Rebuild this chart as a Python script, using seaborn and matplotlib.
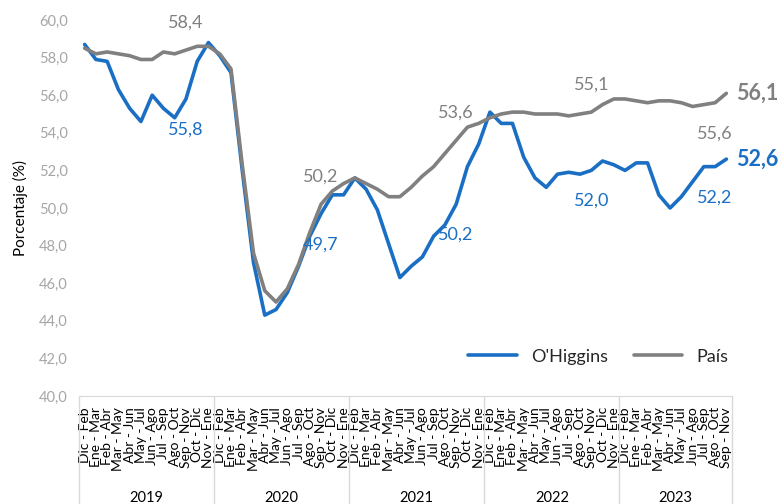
import pandas as pd
import matplotlib.pyplot as plt
import matplotlib.transforms as mtransforms
import seaborn as sns

# rolling quarters (trimestres moviles) per year
trimestres = ['Dic - Feb', 'Ene - Mar', 'Feb - Abr', 'Mar - May', 'Abr - Jun', 'May - Jul',
              'Jun - Ago', 'Jul - Sep', 'Ago - Oct', 'Sep - Nov', 'Oct - Dic', 'Nov - Ene']
years = ['2019', '2020', '2021', '2022', '2023']
n_per_year = [12, 12, 12, 12, 10]

ohiggins = [58.7, 57.9, 57.8, 56.3, 55.3, 54.6, 56.0, 55.3, 54.8, 55.8, 57.8, 58.8,
            58.1, 57.2, 52.0, 47.1, 44.3, 44.6, 45.5, 46.9, 48.5, 49.7, 50.7, 50.7,
            51.6, 51.0, 49.9, 48.1, 46.3, 46.9, 47.4, 48.5, 49.1, 50.2, 52.2, 53.4,
            55.1, 54.5, 54.5, 52.7, 51.6, 51.1, 51.8, 51.9, 51.8, 52.0, 52.5, 52.3,
            52.0, 52.4, 52.4, 50.7, 50.0, 50.6, 51.4, 52.2, 52.2, 52.6]
pais = [58.5, 58.2, 58.3, 58.2, 58.1, 57.9, 57.9, 58.3, 58.2, 58.4, 58.6, 58.6,
        58.2, 57.4, 52.3, 47.6, 45.6, 45.0, 45.7, 47.0, 48.7, 50.2, 50.9, 51.3,
        51.6, 51.3, 51.0, 50.6, 50.6, 51.1, 51.7, 52.2, 52.9, 53.6, 54.3, 54.5,
        54.8, 55.0, 55.1, 55.1, 55.0, 55.0, 55.0, 54.9, 55.0, 55.1, 55.5, 55.8,
        55.8, 55.7, 55.6, 55.7, 55.7, 55.6, 55.4, 55.5, 55.6, 56.1]

# labelled points (index into the series)
labels_ohiggins = [9, 21, 33, 45, 56]
labels_pais = [9, 21, 33, 45]
labels_pais_below = [56]

categorias = []
for y, n in zip(years, n_per_year):
    categorias += trimestres[:n]
idx = list(range(len(categorias)))

df = pd.DataFrame({
    'i': idx * 2,
    'valor': ohiggins + pais,
    'serie': ["O'Higgins"] * len(idx) + ['País'] * len(idx),
})

sns.set_style('white')
plt.rcParams['font.family'] = ['Lato', 'DejaVu Sans']

BLUE = '#1A6FC4'
GRAY = '#808080'

fig = plt.figure(figsize=(7.78, 5.04), dpi=100)
ax = fig.add_axes([79 / 778, 1 - 396 / 504, (732 - 79) / 778, (396 - 20) / 504])

sns.lineplot(data=df, x='i', y='valor', hue='serie', palette=[BLUE, GRAY],
             linewidth=2.6, ax=ax)

ax.set_xlim(-0.5, len(idx) - 0.5)
ax.set_ylim(40, 60)
ax.set_yticks(range(40, 61, 2))
ax.set_yticklabels([f'{v:.1f}'.replace('.', ',') for v in range(40, 61, 2)],
                   color='#A6A6A6', fontsize=10.5)
ax.set_ylabel('Porcentaje (%)', fontsize=11, color='black', labelpad=8)
ax.set_xlabel('')
ax.set_xticks(idx)
ax.set_xticklabels(categorias, rotation=90, fontsize=10, color='black')
ax.tick_params(axis='x', length=0, pad=8)
ax.tick_params(axis='y', length=0, pad=8)

for s in ['top', 'right', 'left']:
    ax.spines[s].set_visible(False)
ax.spines['bottom'].set_color('#D9D9D9')

# multi-level category axis: year separators and year names
trans = mtransforms.blended_transform_factory(ax.transData, ax.transAxes)
start = 0
bounds = [-0.5]
for y, n in zip(years, n_per_year):
    ax.text(start + (n - 1) / 2, -0.27, y, transform=trans, ha='center', va='center',
            fontsize=10.5, color='black')
    start += n
    bounds.append(start - 0.5)
for b in bounds:
    ax.plot([b, b], [0, -0.3], transform=trans, color='#D9D9D9', lw=1, clip_on=False)

# data labels
def fmt(v):
    return f'{v:.1f}'.replace('.', ',')

for i in labels_pais:
    ax.annotate(fmt(pais[i]), (i, pais[i]), xytext=(0, 20), textcoords='offset points',
                ha='center', va='center', color=GRAY, fontsize=13)
for i in labels_pais_below:
    ax.annotate(fmt(pais[i]), (i, pais[i]), xytext=(0, -22), textcoords='offset points',
                ha='center', va='center', color=GRAY, fontsize=13)
for i in labels_ohiggins:
    ax.annotate(fmt(ohiggins[i]), (i, ohiggins[i]), xytext=(0, -22), textcoords='offset points',
                ha='center', va='center', color=BLUE, fontsize=13)

last = len(idx) - 1
ax.annotate(fmt(pais[last]), (last, pais[last]), xytext=(7, 0), textcoords='offset points',
            ha='left', va='center', color=GRAY, fontsize=15.5, fontweight='bold',
            annotation_clip=False)
ax.annotate(fmt(ohiggins[last]), (last, ohiggins[last]), xytext=(7, 0), textcoords='offset points',
            ha='left', va='center', color=BLUE, fontsize=15.5, fontweight='bold',
            annotation_clip=False)

ax.legend(loc='lower right', bbox_to_anchor=(1.02, 0.04), ncol=2, frameon=False,
          fontsize=13, handlelength=2.7, columnspacing=1.4, title=None)

fig.savefig('out.png', dpi=100)
